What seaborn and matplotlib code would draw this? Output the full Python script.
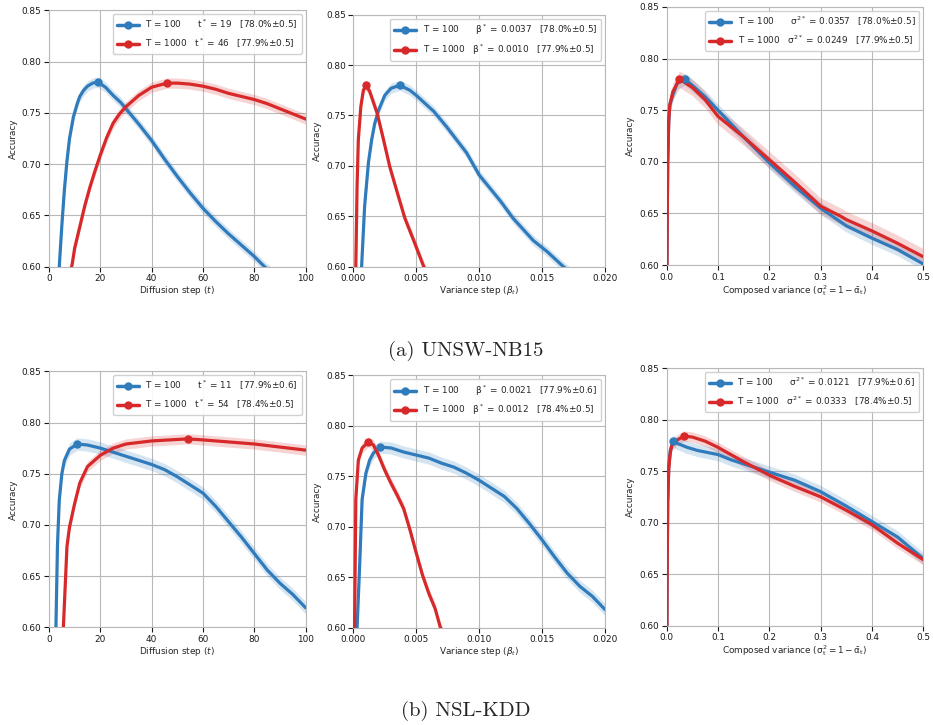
import matplotlib
matplotlib.use("Agg")
import matplotlib.pyplot as plt
from matplotlib.lines import Line2D
import numpy as np
import pandas as pd
import seaborn as sns

# ---------------- data ----------------
# (a) UNSW-NB15 : accuracy vs diffusion step t
unsw_t_100 = [3.0, 4.0, 5.0, 6.0, 7.0, 8.0, 9.5, 11, 12, 13.5, 15, 17, 19, 22, 25, 28, 30, 35, 40, 45, 50, 55, 60, 65, 70, 75, 80, 84, 88]
unsw_acc_100 = [0.575, 0.600, 0.640, 0.675, 0.703, 0.725, 0.746, 0.759, 0.766, 0.772, 0.776, 0.779, 0.780, 0.775, 0.767, 0.760, 0.754, 0.739, 0.723, 0.705, 0.688, 0.672, 0.657, 0.644, 0.632, 0.621, 0.610, 0.600, 0.592]
unsw_t_1000 = [8.0, 9.0, 10, 12, 14, 16, 18, 20, 22.5, 25, 27.5, 30, 35, 40, 46, 50, 55, 60, 65, 70, 75, 80, 85, 90, 95, 100]
unsw_acc_1000 = [0.592, 0.602, 0.618, 0.639, 0.660, 0.678, 0.694, 0.709, 0.726, 0.740, 0.749, 0.756, 0.767, 0.775, 0.779, 0.779, 0.778, 0.776, 0.773, 0.769, 0.766, 0.763, 0.759, 0.754, 0.749, 0.744]

# (a) UNSW-NB15 : accuracy vs variance step beta
unsw_b_100 = [0.0005, 0.00066, 0.0009, 0.0012, 0.00146, 0.0017, 0.0020, 0.0025, 0.0030, 0.0037, 0.0045, 0.0050, 0.0064, 0.0074, 0.0090, 0.0100, 0.0117, 0.0127, 0.0143, 0.0154, 0.0167, 0.0175]
unsw_bacc_100 = [0.570, 0.600, 0.660, 0.703, 0.726, 0.742, 0.755, 0.770, 0.777, 0.780, 0.775, 0.770, 0.754, 0.739, 0.713, 0.691, 0.665, 0.648, 0.626, 0.615, 0.600, 0.592]
unsw_b_1000 = [0.0001, 0.0002, 0.0003, 0.0004, 0.0006, 0.0008, 0.0010, 0.0013, 0.0019, 0.0024, 0.0029, 0.0036, 0.0041, 0.0048, 0.0056, 0.0060]
unsw_bacc_1000 = [0.560, 0.600, 0.680, 0.726, 0.759, 0.775, 0.780, 0.774, 0.752, 0.726, 0.699, 0.669, 0.648, 0.626, 0.600, 0.590]

# (a) UNSW-NB15 : accuracy vs composed variance sigma^2
unsw_s_100 = [0.0, 0.001, 0.002, 0.004, 0.006, 0.012, 0.020, 0.0357, 0.050, 0.075, 0.10, 0.15, 0.20, 0.25, 0.30, 0.35, 0.40, 0.45, 0.50]
unsw_sacc_100 = [0.560, 0.640, 0.700, 0.740, 0.755, 0.765, 0.776, 0.780, 0.774, 0.763, 0.750, 0.724, 0.699, 0.676, 0.655, 0.638, 0.626, 0.615, 0.601]
unsw_s_1000 = [0.0, 0.001, 0.002, 0.004, 0.006, 0.012, 0.0249, 0.050, 0.075, 0.10, 0.15, 0.20, 0.25, 0.30, 0.34, 0.35, 0.40, 0.45, 0.50]
unsw_sacc_1000 = [0.560, 0.640, 0.700, 0.740, 0.755, 0.768, 0.780, 0.772, 0.760, 0.744, 0.724, 0.702, 0.680, 0.657, 0.647, 0.644, 0.633, 0.621, 0.608]

# (b) NSL-KDD : accuracy vs diffusion step t
nsl_t_100 = [2.0, 2.7, 3.3, 4.0, 5.0, 6.0, 8.0, 11, 15, 20, 25, 30, 35, 40, 45, 50, 55, 60, 65, 70, 75, 80, 85, 90, 95, 100]
nsl_acc_100 = [0.560, 0.600, 0.680, 0.724, 0.750, 0.763, 0.774, 0.779, 0.778, 0.775, 0.771, 0.767, 0.763, 0.759, 0.754, 0.747, 0.739, 0.731, 0.718, 0.703, 0.688, 0.672, 0.656, 0.643, 0.632, 0.619]
nsl_t_1000 = [5.0, 5.6, 7.0, 8.0, 10, 12, 15, 20, 25, 30, 40, 54, 60, 70, 80, 90, 100]
nsl_acc_1000 = [0.580, 0.600, 0.679, 0.698, 0.721, 0.741, 0.757, 0.768, 0.775, 0.779, 0.782, 0.784, 0.783, 0.781, 0.779, 0.776, 0.773]

# (b) NSL-KDD : accuracy vs variance step beta
nsl_b_100 = [0.0002, 0.0003, 0.0005, 0.0007, 0.0010, 0.0013, 0.0016, 0.0021, 0.0030, 0.0040, 0.0050, 0.0060, 0.0070, 0.0080, 0.0090, 0.0100, 0.0110, 0.0120, 0.0130, 0.0140, 0.0150, 0.0160, 0.0170, 0.0180, 0.0190, 0.0200]
nsl_bacc_100 = [0.560, 0.600, 0.660, 0.727, 0.753, 0.766, 0.773, 0.779, 0.778, 0.774, 0.771, 0.768, 0.763, 0.759, 0.753, 0.746, 0.738, 0.730, 0.718, 0.703, 0.687, 0.670, 0.654, 0.641, 0.631, 0.618]
nsl_b_1000 = [0.00005, 0.0001, 0.0002, 0.0004, 0.0007, 0.0012, 0.0016, 0.0020, 0.0025, 0.0030, 0.0035, 0.0040, 0.0045, 0.0050, 0.0055, 0.0060, 0.0065, 0.0069, 0.0072]
nsl_bacc_1000 = [0.560, 0.600, 0.727, 0.766, 0.778, 0.784, 0.781, 0.771, 0.756, 0.743, 0.731, 0.718, 0.697, 0.674, 0.652, 0.634, 0.619, 0.601, 0.592]

# (b) NSL-KDD : accuracy vs composed variance sigma^2
nsl_s_100 = [0.0, 0.001, 0.002, 0.004, 0.007, 0.0121, 0.020, 0.040, 0.060, 0.080, 0.10, 0.125, 0.15, 0.20, 0.25, 0.30, 0.35, 0.40, 0.45, 0.50]
nsl_sacc_100 = [0.560, 0.660, 0.720, 0.755, 0.770, 0.779, 0.777, 0.773, 0.770, 0.768, 0.766, 0.761, 0.757, 0.749, 0.741, 0.730, 0.716, 0.701, 0.686, 0.665]
nsl_s_1000 = [0.0, 0.001, 0.002, 0.004, 0.007, 0.010, 0.020, 0.0333, 0.050, 0.075, 0.10, 0.15, 0.20, 0.25, 0.30, 0.35, 0.40, 0.45, 0.50]
nsl_sacc_1000 = [0.560, 0.660, 0.720, 0.752, 0.768, 0.775, 0.780, 0.784, 0.783, 0.779, 0.773, 0.759, 0.746, 0.735, 0.725, 0.712, 0.698, 0.680, 0.664]

# best settings per panel: (x*, acc*) for T = 100 and T = 1000
best_points = {
    "unsw_t": [(19, 0.780), (46, 0.779)],
    "unsw_b": [(0.0037, 0.780), (0.0010, 0.780)],
    "unsw_s": [(0.0357, 0.780), (0.0249, 0.780)],
    "nsl_t": [(11, 0.779), (54, 0.784)],
    "nsl_b": [(0.0021, 0.779), (0.0012, 0.784)],
    "nsl_s": [(0.0121, 0.779), (0.0333, 0.784)],
}

# spread of the shaded band (accuracy units) for T = 100 / T = 1000
band_unsw = [0.005, 0.005]
band_nsl = [0.006, 0.005]

legend_texts = {
    "unsw_t": [r"T = 100      t$^*$ = 19   [78.0%±0.5]", r"T = 1000   t$^*$ = 46   [77.9%±0.5]"],
    "unsw_b": [r"T = 100      β$^*$ = 0.0037   [78.0%±0.5]", r"T = 1000   β$^*$ = 0.0010   [77.9%±0.5]"],
    "unsw_s": [r"T = 100      σ$^{2*}$ = 0.0357   [78.0%±0.5]", r"T = 1000   σ$^{2*}$ = 0.0249   [77.9%±0.5]"],
    "nsl_t": [r"T = 100      t$^*$ = 11   [77.9%±0.6]", r"T = 1000   t$^*$ = 54   [78.4%±0.5]"],
    "nsl_b": [r"T = 100      β$^*$ = 0.0021   [77.9%±0.6]", r"T = 1000   β$^*$ = 0.0012   [78.4%±0.5]"],
    "nsl_s": [r"T = 100      σ$^{2*}$ = 0.0121   [77.9%±0.6]", r"T = 1000   σ$^{2*}$ = 0.0333   [78.4%±0.5]"],
}

x_labels = {
    "t": "Diffusion step ($t$)",
    "b": r"Variance step ($\beta_t$)",
    "s": r"Composed variance ($\mathregular{\sigma_t^2 = 1 - \bar{\alpha}_t}$)",
}
x_limits = {"t": (0, 100), "b": (0, 0.020), "s": (0, 0.5)}
x_ticks = {
    "t": [0, 20, 40, 60, 80, 100],
    "b": [0.000, 0.005, 0.010, 0.015, 0.020],
    "s": [0.0, 0.1, 0.2, 0.3, 0.4, 0.5],
}
x_fmt = {"t": "{:.0f}", "b": "{:.3f}", "s": "{:.1f}"}
y_ticks = [0.60, 0.65, 0.70, 0.75, 0.80, 0.85]

captions = ["(a) UNSW-NB15", "(b) NSL-KDD"]

colors = ["#2f7bbb", "#d8292a"]

# ---------------- style ----------------
FS = 6.4
sns.set_style("whitegrid", rc={
    "axes.edgecolor": "0.72",
    "axes.linewidth": 0.9,
    "grid.color": "0.72",
    "grid.linewidth": 0.8,
    "xtick.bottom": True,
    "ytick.left": True,
    "xtick.color": "0.1",
    "ytick.color": "0.1",
    "xtick.major.size": 3.0,
    "ytick.major.size": 3.0,
    "xtick.major.width": 0.8,
    "ytick.major.width": 0.8,
})
plt.rcParams["font.family"] = ["DejaVu Sans"]
plt.rcParams["mathtext.fontset"] = "dejavusans"
plt.rcParams["xtick.labelsize"] = FS
plt.rcParams["ytick.labelsize"] = FS
plt.rcParams["axes.labelsize"] = FS

W, H = 933, 725
fig = plt.figure(figsize=(W / 100, H / 100), dpi=100)


def px_axes(x0, y0, x1, y1):
    return fig.add_axes([x0 / W, 1 - y1 / H, (x1 - x0) / W, (y1 - y0) / H])


panels = [
    ("unsw_t", "t", (unsw_t_100, unsw_acc_100), (unsw_t_1000, unsw_acc_1000), band_unsw, (49, 10.3, 305.6, 266.7)),
    ("unsw_b", "b", (unsw_b_100, unsw_bacc_100), (unsw_b_1000, unsw_bacc_1000), band_unsw, (353.3, 14.7, 605, 266.7)),
    ("unsw_s", "s", (unsw_s_100, unsw_sacc_100), (unsw_s_1000, unsw_sacc_1000), [0.006, 0.008], (666.7, 7, 923.3, 265)),
    ("nsl_t", "t", (nsl_t_100, nsl_acc_100), (nsl_t_1000, nsl_acc_1000), band_nsl, (49, 371.3, 305.7, 627.3)),
    ("nsl_b", "b", (nsl_b_100, nsl_bacc_100), (nsl_b_1000, nsl_bacc_1000), band_nsl, (353.3, 375.3, 605, 627.7)),
    ("nsl_s", "s", (nsl_s_100, nsl_sacc_100), (nsl_s_1000, nsl_sacc_1000), band_nsl, (666.7, 368, 923.3, 625.7)),
]

for key, kind, s100, s1000, band, rect in panels:
    ax = px_axes(*rect)
    frames = []
    for name, (xs, ys) in zip(["T = 100", "T = 1000"], [s100, s1000]):
        frames.append(pd.DataFrame({"x": xs, "acc": ys, "run": name}))
    df = pd.concat(frames, ignore_index=True)

    for i, name in enumerate(["T = 100", "T = 1000"]):
        sub = df[df["run"] == name]
        ax.fill_between(sub["x"], sub["acc"] - band[i], sub["acc"] + band[i],
                        color=colors[i], alpha=0.2, linewidth=0, zorder=2)

    sns.lineplot(data=df, x="x", y="acc", hue="run", palette=colors,
                 linewidth=2.3, sort=False, legend=False, ax=ax, zorder=3)

    for i, (bx, by) in enumerate(best_points[key]):
        ax.plot([bx], [by], marker="o", markersize=5.0, color=colors[i], zorder=4)

    ax.set_xlim(*x_limits[kind])
    ax.set_ylim(0.60, 0.85)
    ax.set_xticks(x_ticks[kind])
    ax.set_xticklabels([x_fmt[kind].format(v) for v in x_ticks[kind]])
    ax.set_yticks(y_ticks)
    ax.set_yticklabels([f"{v:.2f}" for v in y_ticks])
    ax.set_xlabel(x_labels[kind], labelpad=0.8)
    ax.set_ylabel("Accuracy", labelpad=3)
    ax.tick_params(pad=2)

    handles = [Line2D([0], [0], color=c, lw=2.5, marker="o", markersize=5.0) for c in colors]
    ax.legend(handles, legend_texts[key], loc="upper right", fontsize=FS,
              frameon=True, framealpha=0.9, edgecolor="0.8", borderaxespad=0.45,
              handlelength=2.5, handletextpad=0.7, borderpad=0.45, labelspacing=0.6)

fig.text(466 / W, 1 - 351 / H, captions[0], ha="center", va="center",
         family=["cmr10"], fontsize=15)
fig.text(466 / W, 1 - 711 / H, captions[1], ha="center", va="center",
         family=["cmr10"], fontsize=15)

fig.savefig("out.png", dpi=100)
